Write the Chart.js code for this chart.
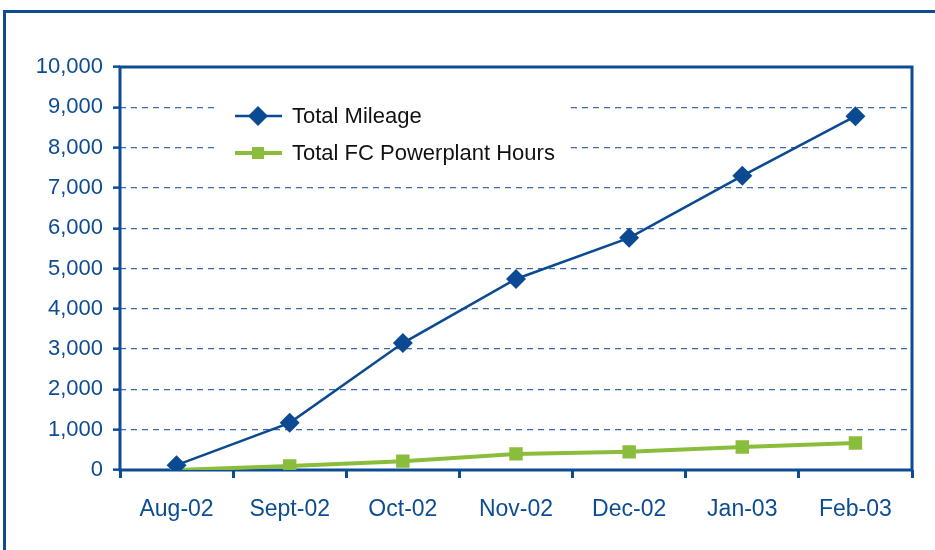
<!DOCTYPE html>
<html>
<head>
<meta charset="utf-8">
<script src="https://cdn.jsdelivr.net/npm/chart.js@4"></script>
<style>
  html, body { margin: 0; padding: 0; background: #fff; }
  #wrap { width: 935px; height: 550px; position: relative; }
</style>
</head>
<body>
<div id="wrap"><canvas id="chart"></canvas></div>
<script>
// Data
const MONTHS = ["Aug-02", "Sept-02", "Oct-02", "Nov-02", "Dec-02", "Jan-03", "Feb-03"];
const MILEAGE = [120, 1170, 3150, 4740, 5760, 7300, 8780];
const FC_HOURS = [0, 100, 220, 400, 450, 570, 670];
const SERIES_NAMES = ["Total Mileage", "Total FC Powerplant Hours"];

const FRAME_BLUE = '#0d4c93';
const GRID_BLUE = '#3a6aa8';
const MILE_BLUE = '#0b4a92';
const HOURS_GREEN = '#8bbd3c';
const FONT = '"Liberation Sans Narrow", "Liberation Sans", Arial, sans-serif';

// Outer frame + chart area border
const framePlugin = {
    id: 'frame',
    beforeDraw(chart) {
        const ctx = chart.ctx;
        ctx.save();
        ctx.fillStyle = '#fff';
        ctx.fillRect(0, 0, chart.width, chart.height);
        ctx.strokeStyle = FRAME_BLUE;
        ctx.lineWidth = 3;
        ctx.strokeRect(4.5, 11.5, chart.width + 20, chart.height + 20);
        ctx.restore();
    },
    beforeDatasetsDraw(chart) {
        const a = chart.chartArea;
        const ctx = chart.ctx;
        ctx.save();
        ctx.strokeStyle = FRAME_BLUE;
        ctx.lineWidth = 3;
        ctx.strokeRect(a.left, a.top, a.right - a.left, a.bottom - a.top);
        ctx.restore();
    }
};

// Legend box sitting inside the plot, over the gridlines
const legendPlugin = {
    id: 'boxLegend',
    beforeDatasetsDraw(chart) {
        const ctx = chart.ctx;
        const x0 = 218, y0 = 96, rowH = 37;
        ctx.save();
        ctx.fillStyle = '#fff';
        ctx.fillRect(x0, y0, 350, 76);
        chart.data.datasets.forEach((ds, i) => {
            const cy = y0 + 20 + i * rowH;
            ctx.strokeStyle = ds.borderColor;
            ctx.lineWidth = ds.borderWidth;
            ctx.beginPath();
            ctx.moveTo(235, cy);
            ctx.lineTo(282, cy);
            ctx.stroke();
            ctx.fillStyle = ds.pointBackgroundColor;
            ctx.beginPath();
            if (ds.pointStyle === 'rectRot') {
                const r = 10;
                ctx.moveTo(258, cy - r);
                ctx.lineTo(258 + r, cy);
                ctx.lineTo(258, cy + r);
                ctx.lineTo(258 - r, cy);
                ctx.closePath();
            } else {
                ctx.rect(252, cy - 6, 12, 12);
            }
            ctx.fill();
            ctx.fillStyle = '#111';
            ctx.font = '22px ' + FONT;
            ctx.textBaseline = 'middle';
            ctx.fillText(ds.label, 292, cy + 1);
        });
        ctx.restore();
    }
};

const ctx = document.getElementById('chart').getContext('2d');
new Chart(ctx, {
    type: 'line',
    data: {
        labels: MONTHS,
        datasets: [
            {
                label: SERIES_NAMES[0],
                data: MILEAGE,
                borderColor: MILE_BLUE,
                backgroundColor: MILE_BLUE,
                pointBackgroundColor: MILE_BLUE,
                pointBorderColor: MILE_BLUE,
                borderWidth: 2.5,
                pointStyle: 'rectRot',
                pointRadius: 10,
                pointBorderWidth: 0,
                tension: 0
            },
            {
                label: SERIES_NAMES[1],
                data: FC_HOURS,
                borderColor: HOURS_GREEN,
                backgroundColor: HOURS_GREEN,
                pointBackgroundColor: HOURS_GREEN,
                pointBorderColor: HOURS_GREEN,
                borderWidth: 4,
                pointStyle: 'rect',
                pointRadius: 9.5,
                pointBorderWidth: 0,
                tension: 0
            }
        ]
    },
    options: {
        responsive: true,
        maintainAspectRatio: false,
        animation: false,
        layout: { padding: { left: 0, top: 67, right: 23, bottom: 0 } },
        plugins: {
            legend: { display: false },
            tooltip: { enabled: false }
        },
        scales: {
            x: {
                offset: true,
                grid: {
                    offset: true,
                    drawOnChartArea: false,
                    color: FRAME_BLUE,
                    lineWidth: 3,
                    tickLength: 8
                },
                border: { display: false },
                ticks: {
                    color: FRAME_BLUE,
                    font: { family: FONT, size: 23 },
                    padding: 18,
                    maxRotation: 0
                },
                afterFit(scale) { scale.height = 80; }
            },
            y: {
                min: 0,
                max: 10000,
                grid: {
                    color: GRID_BLUE,
                    lineWidth: 1.3,
                    tickColor: FRAME_BLUE,
                    tickLength: 7,
                    tickBorderDash: [],
                    tickWidth: 2.5
                },
                border: { display: false, dash: [6, 5] },
                ticks: {
                    stepSize: 1000,
                    color: FRAME_BLUE,
                    font: { family: FONT, size: 22 },
                    padding: 10,
                    callback: v => v.toLocaleString('en-US')
                },
                afterFit(scale) { scale.width = 120; }
            }
        }
    },
    plugins: [framePlugin, legendPlugin]
});
</script>
</body>
</html>
